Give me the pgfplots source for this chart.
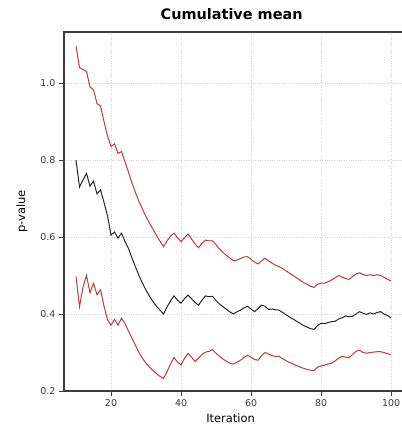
\documentclass[border=0pt]{standalone}
\usepackage{fontspec}
\setmainfont{DejaVu Sans}
\usepackage{pgfplots}
\pgfplotsset{compat=1.18}
\usepackage{pgfplotstable}
\definecolor{cired}{RGB}{185,60,60}
\definecolor{axgray}{RGB}{60,60,60}

\pgfplotstableread{
x m up lo
10 0.800 1.096 0.497
11 0.730 1.040 0.419
12 0.748 1.035 0.470
13 0.765 1.030 0.500
14 0.732 0.990 0.455
15 0.745 0.982 0.480
16 0.712 0.947 0.450
17 0.722 0.940 0.463
18 0.690 0.900 0.420
19 0.655 0.862 0.385
20 0.605 0.835 0.371
21 0.613 0.842 0.386
22 0.597 0.817 0.371
23 0.610 0.822 0.389
24 0.588 0.795 0.375
25 0.570 0.768 0.355
26 0.545 0.740 0.337
27 0.522 0.715 0.318
28 0.500 0.692 0.300
29 0.480 0.672 0.285
30 0.462 0.653 0.272
31 0.446 0.636 0.262
32 0.432 0.620 0.253
33 0.420 0.604 0.245
34 0.410 0.589 0.238
35 0.400 0.575 0.233
36 0.418 0.590 0.250
37 0.434 0.602 0.270
38 0.447 0.610 0.287
39 0.436 0.598 0.275
40 0.428 0.588 0.268
41 0.440 0.598 0.285
42 0.449 0.608 0.298
43 0.440 0.595 0.288
44 0.430 0.582 0.277
45 0.423 0.572 0.285
46 0.436 0.584 0.295
47 0.447 0.592 0.301
48 0.445 0.590 0.303
49 0.446 0.590 0.307
50 0.435 0.580 0.298
51 0.426 0.569 0.290
52 0.419 0.560 0.283
53 0.412 0.552 0.277
54 0.405 0.545 0.272
55 0.400 0.538 0.270
56 0.406 0.540 0.275
57 0.410 0.544 0.280
58 0.416 0.548 0.287
59 0.420 0.549 0.293
60 0.413 0.542 0.288
61 0.406 0.535 0.282
62 0.414 0.530 0.280
63 0.423 0.538 0.292
64 0.420 0.545 0.300
65 0.412 0.538 0.296
66 0.413 0.532 0.292
67 0.411 0.527 0.290
68 0.410 0.523 0.290
69 0.404 0.518 0.284
70 0.398 0.512 0.279
71 0.392 0.506 0.274
72 0.387 0.500 0.270
73 0.381 0.494 0.266
74 0.376 0.488 0.262
75 0.370 0.482 0.259
76 0.366 0.477 0.256
77 0.362 0.472 0.254
78 0.360 0.469 0.253
79 0.370 0.477 0.262
80 0.376 0.480 0.265
81 0.375 0.480 0.267
82 0.378 0.484 0.270
83 0.380 0.488 0.272
84 0.381 0.494 0.278
85 0.387 0.500 0.285
86 0.390 0.496 0.290
87 0.395 0.492 0.288
88 0.393 0.490 0.286
89 0.394 0.497 0.295
90 0.400 0.504 0.303
91 0.406 0.507 0.306
92 0.402 0.503 0.300
93 0.399 0.500 0.298
94 0.403 0.502 0.300
95 0.400 0.500 0.301
96 0.404 0.502 0.302
97 0.406 0.500 0.302
98 0.400 0.495 0.300
99 0.396 0.490 0.297
100 0.390 0.486 0.294
}\cumdata

\begin{document}
\begin{tikzpicture}
\useasboundingbox (0,0) rectangle (402bp,437bp);
\begin{axis}[
  at={(64bp,46bp)}, anchor=south west,
  scale only axis, width=340bp, height=359bp,
  xmin=6.57, xmax=103.7, ymin=0.2, ymax=1.1325,
  xtick={20,40,60,80,100},
  ytick={0.2,0.4,0.6,0.8,1.0},
  yticklabel style={/pgf/number format/.cd, fixed, fixed zerofill, precision=1},
  /pgf/number format/assume math mode=true,
  tick pos=left, tick align=outside,
  major tick length=5bp,
  tick style={axgray, line width=0.8pt},
  axis line style={axgray, line width=1.3pt},
  grid=major,
  grid style={dotted, gray!35, line width=0.7pt},
  ticklabel style={font=\fontsize{9.5}{11}\selectfont, text=axgray},
  title={\bfseries Cumulative mean},
  title style={font=\fontsize{14.5}{17}\selectfont, at={(axis description cs:0.493,1)}, anchor=south, yshift=3bp},
  xlabel={Iteration},
  xlabel style={font=\fontsize{11.5}{14}\selectfont, at={(axis description cs:0.49,0)}, anchor=center, yshift=-27bp},
  ylabel={p-value},
  ylabel style={font=\fontsize{11.5}{14}\selectfont, at={(axis description cs:-0.1235,0.5)}, anchor=center},
]
\addplot[cired, line width=1pt] table[x=x, y=up] {\cumdata};
\addplot[cired, line width=1pt] table[x=x, y=lo] {\cumdata};
\addplot[black!85, line width=1pt] table[x=x, y=m] {\cumdata};
\end{axis}
\end{tikzpicture}
\end{document}
